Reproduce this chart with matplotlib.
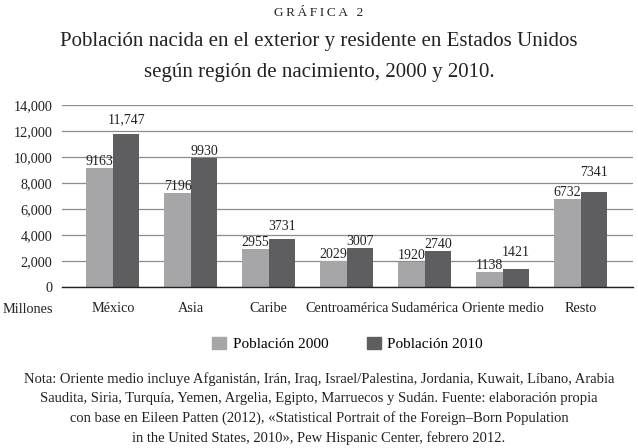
import numpy as np
import matplotlib
matplotlib.use("Agg")
import matplotlib.pyplot as plt
from matplotlib.patches import Patch

# DATA
REGIONS = ["México", "Asia", "Caribe", "Centroamérica", "Sudamérica", "Oriente medio", "Resto"]
POP_2000 = [9163, 7196, 2955, 2029, 1920, 1138, 6732]
POP_2010 = [11747, 9930, 3731, 3007, 2740, 1421, 7341]
SERIES_NAMES = ["Población 2000", "Población 2010"]
Y_TICKS = [0, 2000, 4000, 6000, 8000, 10000, 12000, 14000]

# STYLE
FONT = ["Liberation Serif", "DejaVu Serif"]
LIGHT = "#a6a6a8"
DARK = "#5e5e60"
GRID = "#8c8c8c"
TXT = "#222222"
BAR_W = 0.34
# vertical gap (points) between bar top and its value label
OFF_2000 = [0, 0, 0, 0, 0, 0, 0]
OFF_2010 = [6, 0, 4, 0, 0, 7, 9]

TITLE = "Población nacida en el exterior y residente en Estados Unidos\nsegún región de nacimiento, 2000 y 2010."
NOTE = ("Nota: Oriente medio incluye Afganistán, Irán, Iraq, Israel/Palestina, Jordania, Kuwait, Líbano, Arabia\n"
        "Saudita, Siria, Turquía, Yemen, Argelia, Egipto, Marruecos y Sudán. Fuente: elaboración propia\n"
        "con base en Eileen Patten (2012), «Statistical Portrait of the Foreign–Born Population\n"
        "in the United States, 2010», Pew Hispanic Center, febrero 2012.")

plt.rcParams["font.family"] = FONT


def fmt(v):
    return f"{v:,}" if v >= 10000 else str(v)


fig = plt.figure(figsize=(6.38, 4.48), dpi=100)
ax = fig.add_axes([0.097, 0.359, 0.895, 0.407])

x = np.arange(len(REGIONS))
ax.bar(x - BAR_W / 2, POP_2000, BAR_W, color=LIGHT, zorder=3)
ax.bar(x + BAR_W / 2, POP_2010, BAR_W, color=DARK, zorder=3)

for i in range(len(REGIONS)):
    ax.annotate(fmt(POP_2000[i]), (x[i] - BAR_W / 2, POP_2000[i]), xytext=(0, OFF_2000[i]),
                textcoords="offset points", ha="center", va="bottom", fontsize=10, color=TXT)
    ax.annotate(fmt(POP_2010[i]), (x[i] + BAR_W / 2, POP_2010[i]), xytext=(0, OFF_2010[i]),
                textcoords="offset points", ha="center", va="bottom", fontsize=10, color=TXT)

ax.set_xlim(-0.654, 6.67)
ax.set_ylim(0, 14000)
ax.set_yticks(Y_TICKS)
ax.set_yticklabels([f"{t:,}" for t in Y_TICKS], fontsize=10.3, color=TXT)
ax.set_xticks(x)
ax.set_xticklabels(REGIONS, fontsize=10.3, color=TXT)
ax.tick_params(axis="both", length=0)
ax.tick_params(axis="y", pad=7)
ax.tick_params(axis="x", pad=11)
ax.yaxis.grid(True, color=GRID, linewidth=0.9, zorder=0)
for s in ["top", "right", "left"]:
    ax.spines[s].set_visible(False)
ax.spines["bottom"].set_color(TXT)
ax.spines["bottom"].set_linewidth(1.0)
ax.spines["bottom"].set_zorder(4)

fig.text(0.044, 0.31, "Millones", ha="center", va="center", fontsize=10.3, color=TXT)

fig.text(0.5, 0.972, "G\u2009R\u2009Á\u2009F\u2009I\u2009C\u2009A\u2009 \u20092", ha="center", va="center",
         fontsize=9.5, color=TXT)
fig.text(0.5, 0.872, TITLE, ha="center", va="center", fontsize=15, color=TXT, linespacing=1.85)

handles = [Patch(color=LIGHT), Patch(color=DARK)]
fig.legend(handles, SERIES_NAMES, loc="center", bbox_to_anchor=(0.545, 0.232), ncol=2, frameon=False,
           fontsize=11, handlelength=0.9, handleheight=0.9, columnspacing=2.5, handletextpad=0.45)

fig.text(0.5, 0.088, NOTE, ha="center", va="center", fontsize=10.5, color=TXT, linespacing=1.6)

fig.savefig("out.png", dpi=100, facecolor="white")
